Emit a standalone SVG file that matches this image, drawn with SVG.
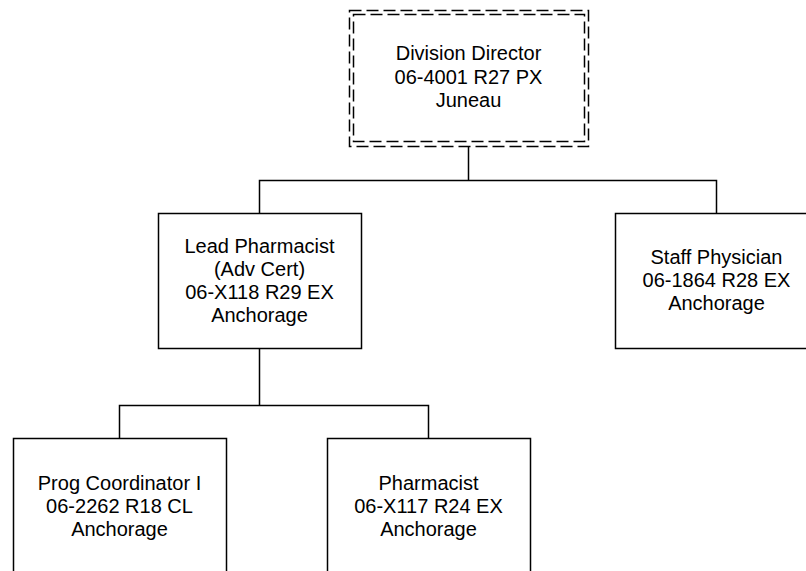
<svg xmlns="http://www.w3.org/2000/svg" width="806" height="571" viewBox="0 0 806 571">
<style>
.box{fill:#fff;stroke:#000;stroke-width:1.5}
.dash{fill:none;stroke:#000;stroke-width:1.5;stroke-dasharray:12 5}
.conn{fill:none;stroke:#000;stroke-width:1.5}
text{font-family:"Liberation Sans",Arial,sans-serif;font-size:20px;fill:#000;text-anchor:middle}
</style>
<rect width="806" height="571" fill="#fff"/>
<g id="connectors">
<path class="conn" d="M468.5 146.5V180.5M259.5 213.5V180.5H716.5V213.5"/>
<path class="conn" d="M259.5 348.5V405.5M119.5 438.5V405.5H428.5V438.5"/>
</g>
<g id="director">
<rect x="349.5" y="10.5" width="239" height="136" fill="#fff"/>
<rect class="dash" x="349.5" y="10.5" width="239" height="136"/>
<rect class="dash" x="353.5" y="14.5" width="231" height="127"/>
<text x="468.5" y="60">Division Director</text>
<text x="468.5" y="83.5">06-4001 R27 PX</text>
<text x="468.5" y="107">Juneau</text>
</g>
<g id="lead">
<rect class="box" x="158.5" y="213.5" width="203" height="135"/>
<text x="259.5" y="253">Lead Pharmacist</text>
<text x="259.5" y="276">(Adv Cert)</text>
<text x="259.5" y="299">06-X118 R29 EX</text>
<text x="259.5" y="322">Anchorage</text>
</g>
<g id="staff">
<rect class="box" x="615.5" y="213.5" width="203" height="135"/>
<text x="716.5" y="264">Staff Physician</text>
<text x="716.5" y="287">06-1864 R28 EX</text>
<text x="716.5" y="310">Anchorage</text>
</g>
<g id="prog">
<rect class="box" x="13.5" y="438.5" width="213" height="135"/>
<text x="119.5" y="490">Prog Coordinator I</text>
<text x="119.5" y="513">06-2262 R18 CL</text>
<text x="119.5" y="536">Anchorage</text>
</g>
<g id="pharmacist">
<rect class="box" x="327.5" y="438.5" width="203" height="135"/>
<text x="428.5" y="490">Pharmacist</text>
<text x="428.5" y="513">06-X117 R24 EX</text>
<text x="428.5" y="536">Anchorage</text>
</g>
</svg>
